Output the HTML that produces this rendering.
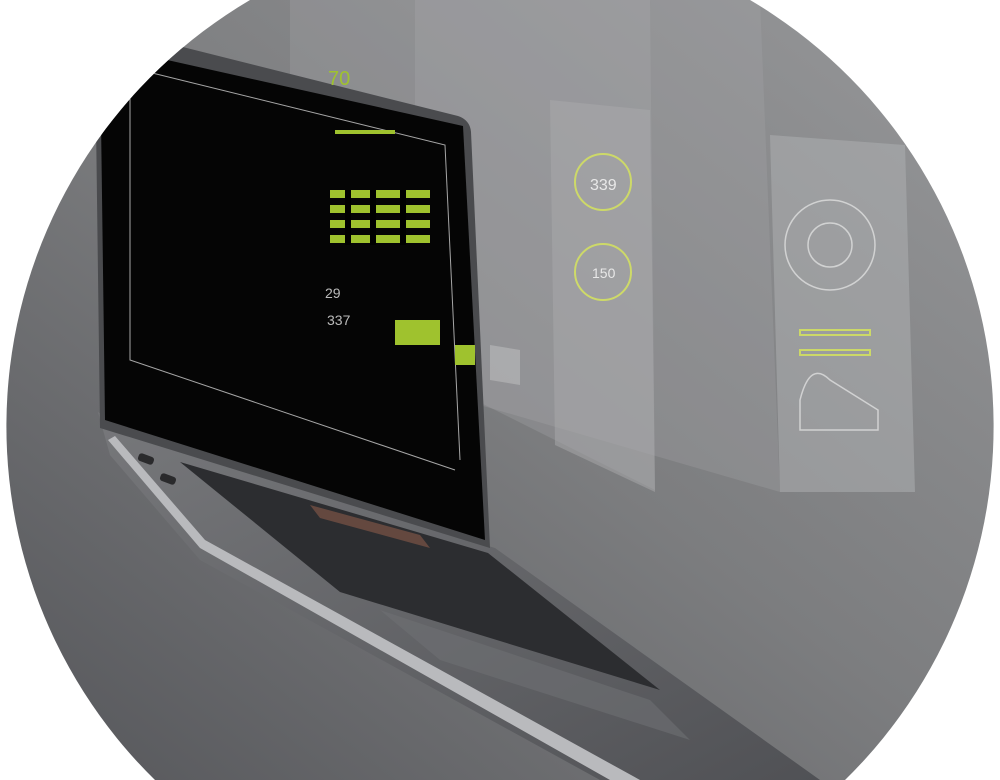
<!DOCTYPE html>
<html><head><meta charset="utf-8"><style>
html,body{margin:0;padding:0;background:#fff;width:1000px;height:780px;overflow:hidden}
#w{width:1000px;height:780px;overflow:hidden;position:relative}
svg{display:block}
</style></head><body><div id="w">
<svg width="1000" height="780" viewBox="0 0 1000 780" xmlns="http://www.w3.org/2000/svg">
<defs>
<linearGradient id="bg" x1="1" y1="0" x2="0" y2="1">
<stop offset="0" stop-color="#97989a"/><stop offset="0.5" stop-color="#7c7d7f"/><stop offset="1" stop-color="#55565a"/>
</linearGradient>
<linearGradient id="base" x1="0" y1="0" x2="1" y2="1">
<stop offset="0" stop-color="#77787b"/><stop offset="1" stop-color="#505155"/>
</linearGradient>
<clipPath id="c"><path d="M250,0 L750,0 A495,495 0 0 1 845,780 L155,780 A495,495 0 0 1 250,0 Z"/></clipPath>
</defs>
<g clip-path="url(#c)">
<rect x="0" y="0" width="1000" height="780" fill="url(#bg)"/>
<polygon points="290,0 760,0 780,492 290,350" fill="#a5a6a8" opacity="0.3"/>
<polygon points="415,0 650,0 655,490 415,370" fill="#b0b1b3" opacity="0.25"/>
<polygon points="550,100 650,110 655,492 555,445" fill="#a9aaac" opacity="0.5"/>
<polygon points="770,135 905,145 915,492 780,492" fill="#adaeb0" opacity="0.55"/>
<g stroke="#d9e85a" fill="none" stroke-width="2" opacity="0.8">
<circle cx="603" cy="182" r="28"/><circle cx="603" cy="272" r="28"/>
<rect x="800" y="330" width="70" height="5"/><rect x="800" y="350" width="70" height="5"/>
</g>
<g stroke="#e8e8e8" fill="none" stroke-width="1.5" opacity="0.7">
<circle cx="830" cy="245" r="45"/><circle cx="830" cy="245" r="22"/>
<path d="M800 400 Q810 360 830 380 L878 410 L878 430 L800 430Z"/>
</g>
<text x="590" y="190" font-family="Liberation Sans,sans-serif" font-size="16" fill="#e8e8e8">339</text>
<text x="592" y="278" font-family="Liberation Sans,sans-serif" font-size="14" fill="#e8e8e8">150</text>
<polygon points="490,345 520,350 520,385 490,380" fill="#d0d0d0" opacity="0.4"/>
<polygon points="98,412 140,440 495,548 820,780 600,780 200,560 110,455" fill="url(#base)"/>
<polygon points="108,440 200,548 610,780 640,780 205,540 115,436" fill="#b9babd"/>
<polygon points="180,462 488,553 660,690 340,592" fill="#2c2d30"/>
<polygon points="310,505 420,535 430,548 320,518" fill="#8a5a4a" opacity="0.6"/>
<polygon points="380,610 650,700 690,740 440,660" fill="#6e6f73" opacity="0.6"/>
<rect x="138" y="455" width="16" height="8" rx="3" fill="#2a2a2c" transform="rotate(20 146 459)"/>
<rect x="160" y="475" width="16" height="8" rx="3" fill="#2a2a2c" transform="rotate(20 168 479)"/>
<path d="M95,45 Q96,28 115,30 L458,116 Q470,120 471,132 L490,548 L100,428 Z" fill="#4a4b4e"/>
<polygon points="100,45 463,126 485,540 105,420" fill="#050505"/>
<g stroke="#cfcfcf" stroke-width="1" fill="none" opacity="0.8">
<polyline points="130,55 130,360 455,470"/>
<polyline points="140,70 445,145 460,460"/>
</g>
<g fill="#9fc22e">
<rect x="330" y="190" width="100" height="8"/>
<rect x="330" y="205" width="100" height="8"/>
<rect x="330" y="220" width="100" height="8"/>
<rect x="330" y="235" width="100" height="8"/>
<rect x="335" y="130" width="60" height="4"/>
<rect x="395" y="320" width="45" height="25"/>
<rect x="455" y="345" width="20" height="20"/>
</g>
<g fill="#000">
<rect x="345" y="190" width="6" height="55"/><rect x="370" y="190" width="6" height="55"/><rect x="400" y="190" width="6" height="55"/>
</g>
<text x="328" y="85" font-family="Liberation Sans,sans-serif" font-size="20" fill="#9fc22e">70</text>
<text x="325" y="298" font-family="Liberation Sans,sans-serif" font-size="14" fill="#bbb">29</text>
<text x="327" y="325" font-family="Liberation Sans,sans-serif" font-size="14" fill="#bbb">337</text>
</g>
</svg>
</div></body></html>
